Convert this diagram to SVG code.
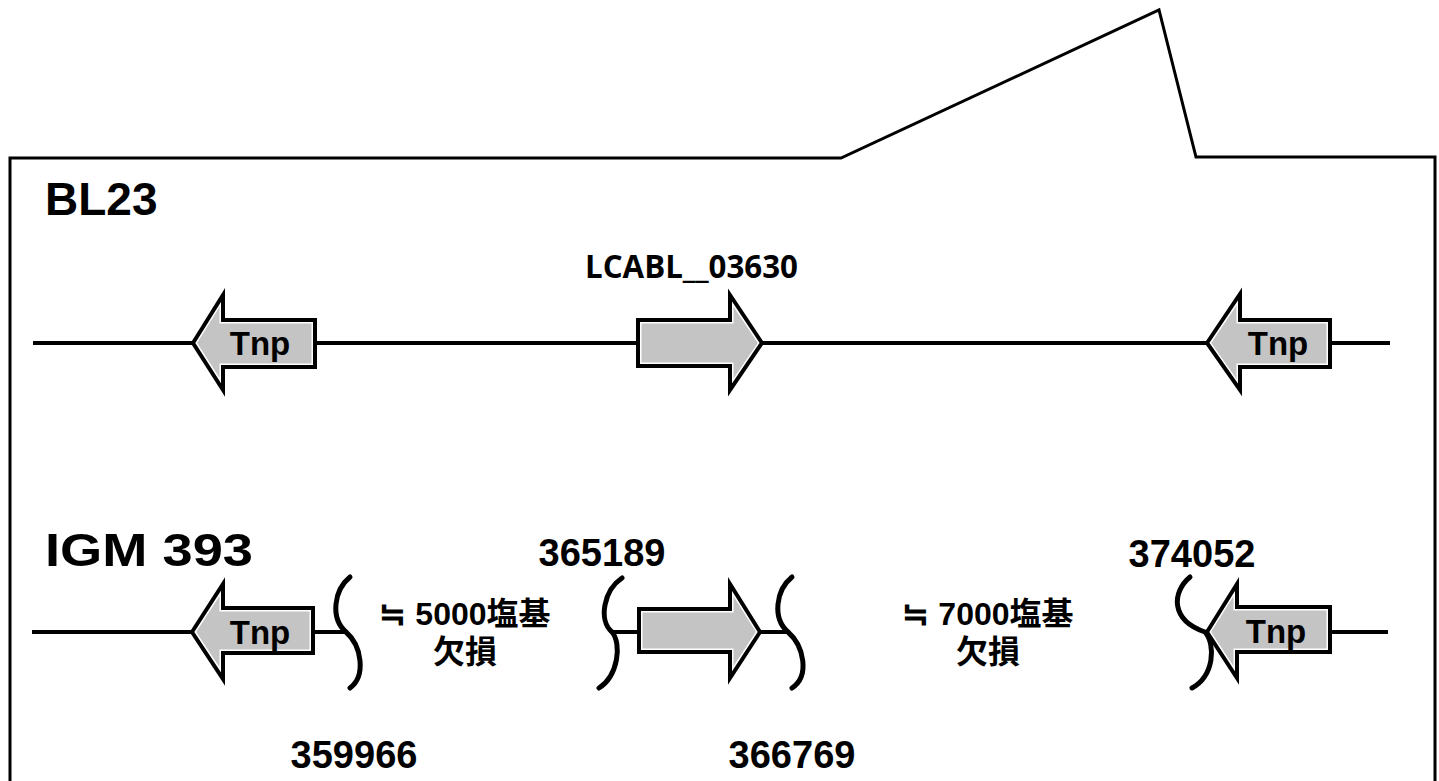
<svg xmlns="http://www.w3.org/2000/svg" width="1439" height="781" viewBox="0 0 1439 781">
<style>
.frame{fill:none;stroke:#000;stroke-width:3;stroke-linejoin:miter}
.gfill{fill:#c4c4c4;stroke:#fff;stroke-width:7;stroke-linejoin:miter}
.gline{fill:none;stroke:#000;stroke-width:4;stroke-linejoin:miter}
.dna{stroke:#000;stroke-width:4;fill:none}
.brk{fill:none;stroke:#000;stroke-width:5;stroke-linecap:round}
.title{font-family:"Liberation Sans",Arial,sans-serif;font-weight:bold;font-size:46px;fill:#000}
.tnp{font-family:"Liberation Sans",Arial,sans-serif;font-weight:bold;font-size:33px;fill:#000;text-anchor:middle}
.num{font-family:"Liberation Sans",Arial,sans-serif;font-weight:bold;font-size:38px;fill:#000;text-anchor:middle}
.del{font-family:"Liberation Sans","Noto Sans CJK JP",sans-serif;font-weight:bold;font-size:32px;fill:#000;text-anchor:middle}
.gene{font-family:"Open Sans","Noto Sans",sans-serif;font-weight:bold;font-size:32px;fill:#000}
</style>
<path class="frame" d="M10,781 L10,158 L841,158 L1159,10 L1196,157 L1435,157 L1435,781"/>
<text class="title" x="45" y="215">BL23</text>
<text class="gene" x="585" y="278" textLength="213" lengthAdjust="spacingAndGlyphs">LCABL__03630</text>
<text class="title" x="45" y="566" font-size="48" textLength="208" lengthAdjust="spacingAndGlyphs">IGM 393</text>

<g id="bl23-tnp-left">
<polygon class="gfill" points="193,343 223,295 223,320 315,320 315,367 223,367 223,390"/>
<polygon class="gline" points="193,343 223,295 223,320 315,320 315,367 223,367 223,390"/>
<text class="tnp" x="260" y="355">Tnp</text>
</g>
<g id="bl23-lcabl">
<polygon class="gfill" points="762,343 730,295 730,320 638,320 638,366 730,366 730,390"/>
<polygon class="gline" points="762,343 730,295 730,320 638,320 638,366 730,366 730,390"/>
</g>
<g id="bl23-tnp-right">
<polygon class="gfill" points="1207,343 1240,294 1240,320 1330,320 1330,367 1240,367 1240,390"/>
<polygon class="gline" points="1207,343 1240,294 1240,320 1330,320 1330,367 1240,367 1240,390"/>
<text class="tnp" x="1278" y="355">Tnp</text>
</g>

<g id="igm-tnp-left">
<polygon class="gfill" points="192,632 223,584 223,608 313,608 313,653 223,653 223,679"/>
<polygon class="gline" points="192,632 223,584 223,608 313,608 313,653 223,653 223,679"/>
<text class="tnp" x="260" y="644">Tnp</text>
</g>
<g id="igm-lcabl">
<polygon class="gfill" points="760,632 730,584 730,609 639,609 639,652 730,652 730,678"/>
<polygon class="gline" points="760,632 730,584 730,609 639,609 639,652 730,652 730,678"/>
</g>
<g id="igm-tnp-right">
<polygon class="gfill" points="1207,632 1237,584 1237,607 1330,607 1330,652 1237,652 1237,678"/>
<polygon class="gline" points="1207,632 1237,584 1237,607 1330,607 1330,652 1237,652 1237,678"/>
<text class="tnp" x="1276" y="643">Tnp</text>
</g>

<g id="connectors">
<line class="dna" x1="33" y1="343" x2="193" y2="343"/>
<line class="dna" x1="315" y1="343" x2="638" y2="343"/>
<line class="dna" x1="762" y1="343" x2="1207" y2="343"/>
<line class="dna" x1="1330" y1="343" x2="1390" y2="343"/>
<line class="dna" x1="32" y1="632" x2="192" y2="632"/>
<line class="dna" x1="313" y1="632" x2="346" y2="632"/>
<line class="dna" x1="612" y1="632" x2="639" y2="632"/>
<line class="dna" x1="760" y1="632" x2="788" y2="632"/>
<line class="dna" x1="1330" y1="632" x2="1388" y2="632"/>
</g>

<g id="breaks">
<path class="brk" d="M350,577 C334,590 330,618 346,632 C362,646 366,676 350,688"/>
<path class="brk" d="M622,578 C604,590 598,620 612,632 C622,644 618,676 599,688"/>
<path class="brk" d="M792,577 C776,590 772,618 788,632 C804,646 810,676 792,688"/>
<path class="brk" d="M1190,577 C1172,592 1170,620 1205,632 C1216,645 1214,676 1192,688"/>
</g>

<g id="labels">
<text class="num" x="602" y="566">365189</text>
<text class="num" x="1192" y="567">374052</text>
<text class="num" x="354" y="768">359966</text>
<text class="num" x="792" y="768">366769</text>
<text class="del" x="465" y="625">≒ 5000塩基</text>
<text class="del" x="465" y="663">欠損</text>
<text class="del" x="988" y="625">≒ 7000塩基</text>
<text class="del" x="988" y="663">欠損</text>
</g>
</svg>
